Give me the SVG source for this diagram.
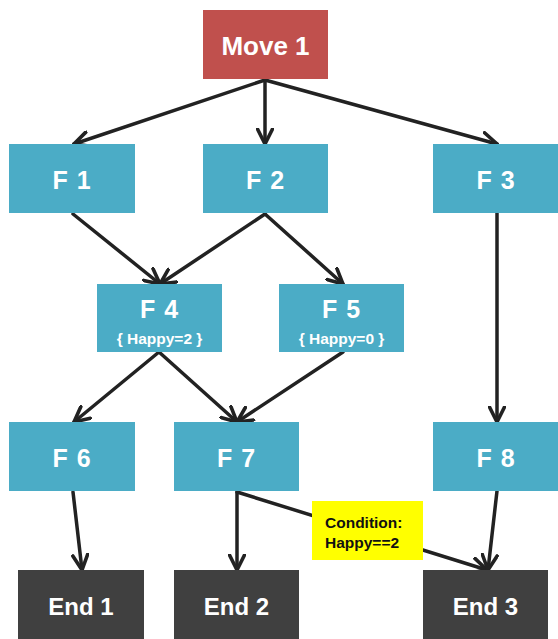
<svg xmlns="http://www.w3.org/2000/svg" width="558" height="639" viewBox="0 0 558 639">
<style>
.red{fill:#C0504D}
.blue{fill:#4BACC6}
.dark{fill:#404040}
.lbl{font-family:"Liberation Sans",Arial,sans-serif;font-weight:bold;fill:#fff;text-anchor:middle}
.f{font-size:25px;letter-spacing:1px}
.sub{font-size:15.5px}
.cond{font-family:"Liberation Sans",Arial,sans-serif;font-weight:bold;font-size:15.5px;fill:#111}
.c line{stroke:#222;stroke-width:3.5;stroke-linecap:round;marker-end:url(#ah)}
</style>
<defs>
<marker id="ah" viewBox="0 0 12 12" refX="11" refY="6" markerWidth="18" markerHeight="18" markerUnits="userSpaceOnUse" orient="auto">
<path d="M1,1 L11,6 L1,11" fill="none" stroke="#222" stroke-width="2.4" stroke-linecap="round" stroke-linejoin="miter"/>
</marker>
</defs>
<rect width="558" height="639" fill="#fff"/>
<g id="connectors" class="c">
<line x1="265" y1="80" x2="74" y2="144"/>
<line x1="265" y1="80" x2="265" y2="144"/>
<line x1="265" y1="80" x2="497" y2="144"/>
<line x1="73" y1="214" x2="160" y2="284"/>
<line x1="265" y1="214" x2="160" y2="284"/>
<line x1="265" y1="214" x2="343" y2="284"/>
<line x1="497" y1="213" x2="497" y2="422"/>
<line x1="159" y1="352" x2="74" y2="422"/>
<line x1="159" y1="352" x2="237" y2="422"/>
<line x1="343" y1="352" x2="237" y2="422"/>
<line x1="73" y1="492" x2="82" y2="570"/>
<line x1="237" y1="492" x2="237" y2="570"/>
<line x1="237" y1="492" x2="487" y2="570"/>
<line x1="497" y1="491" x2="488" y2="570"/>
</g>
<g id="move1"><rect class="red" x="203" y="10" width="125" height="69"/><text class="lbl" x="265.5" y="55" font-size="26">Move 1</text></g>
<g id="f1"><rect class="blue" x="9" y="144" width="126" height="69"/><text class="lbl f" x="72" y="189">F 1</text></g>
<g id="f2"><rect class="blue" x="203" y="144" width="125" height="69"/><text class="lbl f" x="265.5" y="189">F 2</text></g>
<g id="f3"><rect class="blue" x="433" y="144" width="125" height="69"/><text class="lbl f" x="496" y="189">F 3</text></g>
<g id="f4"><rect class="blue" x="97" y="284" width="125" height="68"/><text class="lbl f" x="159.5" y="318">F 4</text><text class="lbl sub" x="159.5" y="344">{ Happy=2 }</text></g>
<g id="f5"><rect class="blue" x="279" y="284" width="125" height="68"/><text class="lbl f" x="341.5" y="318">F 5</text><text class="lbl sub" x="341.5" y="344">{ Happy=0 }</text></g>
<g id="f6"><rect class="blue" x="9" y="422" width="126" height="69"/><text class="lbl f" x="72" y="467">F 6</text></g>
<g id="f7"><rect class="blue" x="174" y="422" width="125" height="69"/><text class="lbl f" x="236.5" y="467">F 7</text></g>
<g id="f8"><rect class="blue" x="433" y="422" width="125" height="69"/><text class="lbl f" x="496" y="467">F 8</text></g>
<g id="cond"><rect x="312" y="501" width="111" height="59" fill="#FFFF00"/><text class="cond" x="325" y="528">Condition:</text><text class="cond" x="325" y="548">Happy==2</text></g>
<g id="end1"><rect class="dark" x="18" y="570" width="126" height="69"/><text class="lbl" x="81" y="615" font-size="24">End 1</text></g>
<g id="end2"><rect class="dark" x="174" y="570" width="125" height="69"/><text class="lbl" x="236.5" y="615" font-size="24">End 2</text></g>
<g id="end3"><rect class="dark" x="423" y="570" width="125" height="69"/><text class="lbl" x="485.5" y="615" font-size="24">End 3</text></g>
</svg>
